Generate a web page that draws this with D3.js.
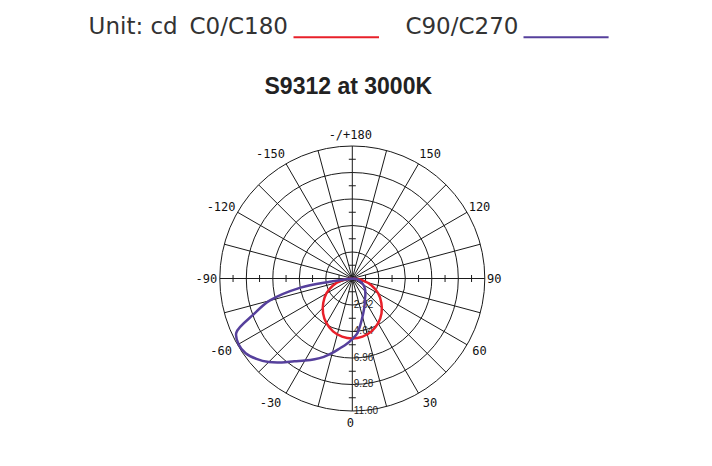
<!DOCTYPE html>
<html>
<head>
<meta charset="utf-8">
<script src="https://cdn.jsdelivr.net/npm/d3@7"></script>
<style>
  html, body { margin: 0; padding: 0; background: #fff; }
  svg { display: block; }
</style>
</head>
<body>
<div class="chart"></div>
<script>
// ring values (cd) and angle labels of the polar grid
var ringValues = [2.32, 4.64, 6.96, 9.28, 11.60];
var angleTicks = [0, 30, 60, 90, 120, 150, 180, -30, -60, -90, -120, -150];
var seriesNames = ["C0/C180", "C90/C270"];
var titleText = "S9312 at 3000K";

// C0/C180 plane: gamma angle (deg) -> intensity (cd)
var gammaC0 = [-90, -80, -70, -60, -50, -40, -30, -20, -10, 0, 10, 20, 30, 40, 50, 60, 70, 80, 90];
var valuesC0 = [0.05, 0.92, 1.80, 2.62, 3.32, 3.98, 4.52, 4.93, 5.17, 5.25, 5.17, 4.93, 4.52, 3.98, 3.32, 2.62, 1.80, 0.92, 0.05];

// C90/C270 plane: negative = C270 side, positive = C90 side
var gammaC90 = [-90, -85, -82, -80, -75, -70, -65, -60, -55, -50, -45, -40, -35, -30, -25, -20, -15, -10, -5, 0,
                5, 10, 15, 20, 25, 30, 40, 50, 60, 70, 80, 90];
var valuesC90 = [0, 0.4, 2.0, 4.6, 7.5, 9.2, 11.2, 11.5, 11.4, 10.95, 10.35, 9.6, 8.85, 8.3, 7.8, 7.3, 6.75, 6.2, 5.75, 5.3,
                 4.85, 4.1, 3.45, 2.95, 2.55, 2.2, 1.78, 1.45, 1.12, 0.75, 0.4, 0];

var colors = ["#e8202a", "#56409c"];

var width = 712;
var height = 466;
var cx = 352.3, cy = 278.5, R = 132.5;

var svg = d3.select('.chart')
    .append('svg')
    .attr('width', width)
    .attr('height', height);

// header / legend
svg.append('text')
    .attr('x', 88.6).attr('y', 34)
    .attr('font-family', 'DejaVu Sans').attr('font-size', 23).attr('fill', '#333')
    .text('Unit: cd');

var legendX = [189.5, 405.4];
var legendLine = [[293.5, 379], [523.5, 608.6]];
seriesNames.forEach(function(name, i){
    svg.append('text')
        .attr('x', legendX[i]).attr('y', 34)
        .attr('font-family', 'DejaVu Sans').attr('font-size', 23).attr('fill', '#333')
        .text(name);
    svg.append('line')
        .attr('x1', legendLine[i][0]).attr('x2', legendLine[i][1])
        .attr('y1', 37.2).attr('y2', 37.2)
        .attr('stroke', colors[i]).attr('stroke-width', 2);
});

svg.append('text')
    .attr('x', 348.3).attr('y', 94.3)
    .attr('text-anchor', 'middle')
    .attr('font-family', 'Liberation Sans, Arial, sans-serif')
    .attr('font-weight', 'bold').attr('font-size', 23).attr('fill', '#222')
    .text(titleText);

// polar plot
var r = d3.scaleLinear()
    .domain([0, d3.max(ringValues)])
    .range([0, R]);

var g = svg.append('g')
    .attr('transform', 'translate(' + cx + ',' + cy + ')');

// gamma 0 points down, positive to the right
function px(a, rad){ return rad * Math.sin(a * Math.PI / 180); }
function py(a, rad){ return rad * Math.cos(a * Math.PI / 180); }

var grid = g.append('g').attr('class', 'grid')
    .attr('fill', 'none').attr('stroke', '#1a1a1a').attr('stroke-width', 1);

grid.selectAll('circle')
    .data(ringValues)
    .enter()
        .append('circle')
        .attr('r', function(d){ return r(d); });

grid.selectAll('line.spoke')
    .data(d3.range(0, 360, 15))
    .enter()
        .append('line')
        .attr('class', 'spoke')
        .attr('x1', 0).attr('y1', 0)
        .attr('x2', function(d){ return px(d, R); })
        .attr('y2', function(d){ return py(d, R); });

// half-step ticks on the two main axes
var halfSteps = ringValues.map(function(d, i){ return d - (i === 0 ? d : d - ringValues[i - 1]) / 2; });
[0, 90, 180, 270].forEach(function(a){
    grid.selectAll(null)
        .data(halfSteps)
        .enter()
            .append('line')
            .attr('x1', function(d){ return px(a, r(d)) + 3.5 * Math.cos(a * Math.PI / 180); })
            .attr('y1', function(d){ return py(a, r(d)) - 3.5 * Math.sin(a * Math.PI / 180); })
            .attr('x2', function(d){ return px(a, r(d)) - 3.5 * Math.cos(a * Math.PI / 180); })
            .attr('y2', function(d){ return py(a, r(d)) + 3.5 * Math.sin(a * Math.PI / 180); });
});

// angle labels, pushed a bit sideways on the slanted positions
g.append('g')
    .selectAll('text')
    .data(angleTicks)
    .enter()
        .append('text')
        .attr('x', function(d){
            var s = Math.sin(d * Math.PI / 180);
            var c = Math.abs(Math.cos(d * Math.PI / 180));
            return -2 + px(d, 144) + (Math.abs(s) < 1e-6 ? 0 : Math.sign(s) * c * 9);
        })
        .attr('y', function(d){ return py(d, 144); })
        .attr('text-anchor', 'middle')
        .attr('dominant-baseline', 'central')
        .attr('font-family', 'DejaVu Sans Mono, monospace')
        .attr('font-size', 12)
        .attr('fill', '#111')
        .text(function(d){ return d === 180 ? '-/+180' : d; });

// ring value labels along the 0 axis
g.append('g')
    .selectAll('text')
    .data(ringValues)
    .enter()
        .append('text')
        .attr('x', 1.5)
        .attr('y', function(d){ return r(d) - 1; })
        .attr('dominant-baseline', 'central')
        .attr('font-family', 'Liberation Sans, Arial, sans-serif')
        .attr('font-size', 10)
        .attr('fill', '#222')
        .text(function(d){ return d.toFixed(2); });

// curves
var line = d3.lineRadial()
    .angle(function(d){ return Math.PI - d.g * Math.PI / 180; })
    .radius(function(d){ return r(d.v); })
    .curve(d3.curveCatmullRom.alpha(0.5));

var series = [
    gammaC0.map(function(a, i){ return {g: a, v: valuesC0[i]}; }),
    gammaC90.map(function(a, i){ return {g: a, v: valuesC90[i]}; })
];

g.selectAll('path.curve')
    .data(series)
    .enter()
        .append('path')
        .attr('class', 'curve')
        .attr('d', line)
        .attr('fill', 'none')
        .attr('stroke', function(d, i){ return colors[i]; })
        .attr('stroke-width', 2.5);
</script>
</body>
</html>
